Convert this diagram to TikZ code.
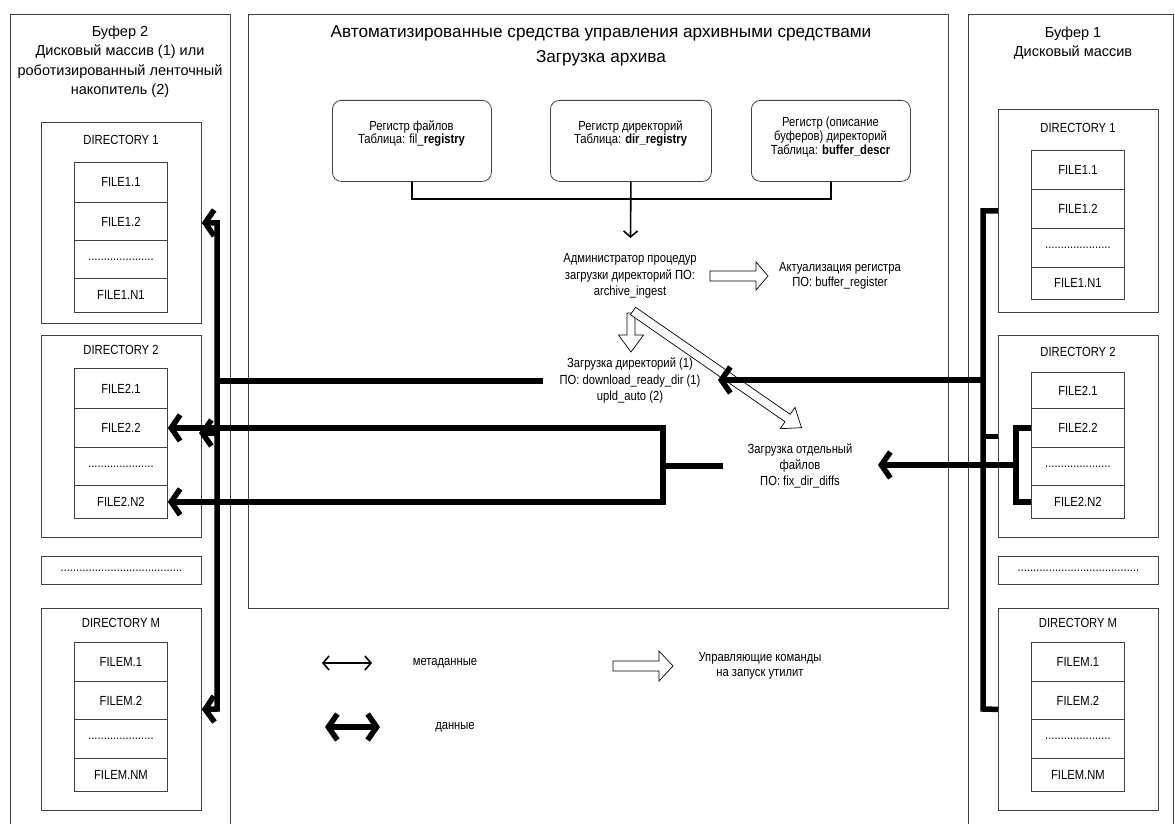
\documentclass[tikz,border=0pt]{standalone}
\usepackage{fontspec}
\setmainfont{Liberation Sans}
\newfontfamily\narrowf{Liberation Sans}[FakeStretch=0.85]
\usetikzlibrary{arrows.meta}
\newcommand\fsz{\narrowf\fontsize{13.2}{13.8}\selectfont}
\newcommand\fmid{\narrowf\fontsize{13.2}{16.2}\selectfont}
\newcommand\flow{\narrowf\fontsize{13.2}{15.2}\selectfont}
\newcommand\fbuf{\fontsize{14.5}{19.5}\selectfont}
\newcommand\fttl{\fontsize{17.2}{25}\selectfont}
\newcommand\dotsS{.....................}
\newcommand\dotsL{.......................................}
\tikzset{
  frame/.style={draw=black!75,line width=0.8pt},
  cell/.style={frame,anchor=north west,minimum width=93,inner sep=0pt,font=\fsz},
  dirbox/.style={frame,anchor=north west,minimum width=160,minimum height=202,inner sep=0pt},
  regbox/.style={frame,rounded corners=9,anchor=north west,minimum height=81,inner sep=0pt},
  lbl/.style={align=center,inner sep=0pt},
  meta/.style={line width=1.6pt},
  data/.style={line width=5.5pt},
  dtip/.tip={Straight Barb[length=9pt,width=26pt]},
  mtip/.tip={Straight Barb[length=6pt,width=14pt]},
  pics/harrow/.style n args={4}{code={\draw[line width=0.7pt,fill=white] (0,-#2) -- ({#1-#4},-#2) -- ({#1-#4},-#3) -- (#1,0) -- ({#1-#4},#3) -- ({#1-#4},#2) -- (0,#2) -- cycle;}}
}
\begin{document}
\begin{tikzpicture}[x=1pt,y=-1pt]
\useasboundingbox (0,0) rectangle (1175,824);
% outer frames
\node[frame,anchor=north west,minimum width=220,minimum height=830,inner sep=0pt] (buf2) at (10,14) {};
\node[frame,anchor=north west,minimum width=700,minimum height=594,inner sep=0pt] (ctrl) at (248,14) {};
\node[frame,anchor=north west,minimum width=205,minimum height=830,inner sep=0pt] (buf1) at (968,14) {};
% titles
\node[lbl,font=\fbuf] (buf2t) at (120,61.5) {Буфер 2\\Дисковый массив (1) или\\роботизированный ленточный\\накопитель (2)};
\node[lbl,font=\fbuf] (buf1t) at (1073,43) {Буфер 1\\Дисковый массив};
\node[lbl,font=\fttl] (ttl) at (601,46) {Автоматизированные средства управления архивными средствами\\Загрузка архива};
% ---------- left buffer ----------
\node[dirbox,minimum height=201] (ld1) at (41,122) {};
\node[lbl,font=\fsz] (ld1t) at (121,140) {DIRECTORY 1};
\node[cell,minimum height=40] (lf11) at (74,162) {FILE1.1};
\node[cell,minimum height=38] (lf12) at (74,202) {FILE1.2};
\node[cell,minimum height=38] (lf1d) at (74,240) {\dotsS};
\node[cell,minimum height=34] (lf1n) at (74,278) {FILE1.N1};
\node[dirbox] (ld2) at (41,335) {};
\node[lbl,font=\fsz] (ld2t) at (121,350) {DIRECTORY 2};
\node[cell,minimum height=40] (lf21) at (74,368) {FILE2.1};
\node[cell,minimum height=39] (lf22) at (74,408) {FILE2.2};
\node[cell,minimum height=38] (lf2d) at (74,447) {\dotsS};
\node[cell,minimum height=33] (lf2n) at (74,485) {FILE2.N2};
\node[frame,anchor=north west,minimum width=160,minimum height=28,inner sep=0pt,font=\fsz] (ldots) at (41,556) {\dotsL};
\node[dirbox] (ldm) at (41,608) {};
\node[lbl,font=\fsz] (ldmt) at (121,623) {DIRECTORY M};
\node[cell,minimum height=39] (lfm1) at (74,642) {FILEM.1};
\node[cell,minimum height=38] (lfm2) at (74,681) {FILEM.2};
\node[cell,minimum height=39] (lfmd) at (74,719) {\dotsS};
\node[cell,minimum height=33] (lfmn) at (74,758) {FILEM.NM};
% ---------- right buffer ----------
\node[dirbox,minimum height=203] (rd1) at (998,109) {};
\node[lbl,font=\fsz] (rd1t) at (1078,128) {DIRECTORY 1};
\node[cell,minimum height=39] (rf11) at (1031,150) {FILE1.1};
\node[cell,minimum height=39] (rf12) at (1031,189) {FILE1.2};
\node[cell,minimum height=39] (rf1d) at (1031,228) {\dotsS};
\node[cell,minimum height=32] (rf1n) at (1031,267) {FILE1.N1};
\node[dirbox] (rd2) at (998,335) {};
\node[lbl,font=\fsz] (rd2t) at (1078,352) {DIRECTORY 2};
\node[cell,minimum height=36] (rf21) at (1031,372) {FILE2.1};
\node[cell,minimum height=39] (rf22) at (1031,408) {FILE2.2};
\node[cell,minimum height=38] (rf2d) at (1031,447) {\dotsS};
\node[cell,minimum height=33] (rf2n) at (1031,485) {FILE2.N2};
\node[frame,anchor=north west,minimum width=160,minimum height=28,inner sep=0pt,font=\fsz] (rdots) at (998,556) {\dotsL};
\node[dirbox] (rdm) at (998,608) {};
\node[lbl,font=\fsz] (rdmt) at (1078,623) {DIRECTORY M};
\node[cell,minimum height=39] (rfm1) at (1031,642) {FILEM.1};
\node[cell,minimum height=38] (rfm2) at (1031,681) {FILEM.2};
\node[cell,minimum height=39] (rfmd) at (1031,719) {\dotsS};
\node[cell,minimum height=33] (rfmn) at (1031,758) {FILEM.NM};
% ---------- registers ----------
\node[regbox,minimum width=159] (r1) at (332,100) {};
\node[regbox,minimum width=161] (r2) at (550,100) {};
\node[regbox,minimum width=159] (r3) at (751,100) {};
\node[lbl,font=\fsz] (r1t) at (411.5,133.5) {Регистр файлов\\Таблица: fil\_\textbf{registry}};
\node[lbl,font=\fsz] (r2t) at (630.5,133.5) {Регистр директорий\\Таблица: \textbf{dir\_registry}};
\node[lbl,font=\fsz] (r3t) at (830.5,137) {Регистр (описание\\буферов) директорий\\Таблица: \textbf{buffer\_descr}};
% ---------- process texts ----------
\node[lbl,font=\fmid] (admin) at (630,276) {Администратор процедур\\загрузки директорий ПО:\\archive\_ingest};
\node[lbl,font=\flow] (act) at (840,275.5) {Актуализация регистра\\ПО: buffer\_register};
\node[lbl,font=\fmid] (dl) at (630,380.5) {Загрузка директорий (1)\\ПО: download\_ready\_dir (1)\\upld\_auto (2)};
\node[lbl,font=\fmid] (fix) at (800,466) {Загрузка отдельный\\файлов\\ПО: fix\_dir\_diffs};
% ---------- coordinates ----------
\coordinate (adminin) at (630.5,238);
\coordinate (lbus) at (217,709);
\coordinate (rbus) at (983,709);
\coordinate (ljoin) at (217,381);
\coordinate (dlout) at (543,381);
\coordinate (dlin) at (718,380);
\coordinate (rjoin) at (983,380);
\coordinate (fixout) at (723,466);
\coordinate (fixin) at (878,465);
\coordinate (rbr) at (1016,465);
\coordinate (lrect) at (663,466);
\coordinate (ld2in) at (199,433);
\coordinate (h1s) at (710,276);
\coordinate (h2s) at (631,313);
\coordinate (h3s) at (633,311);
% ---------- metadata connectors ----------
\draw[meta] (r1.south) -- ++(0,17) -| (r3.south);
\draw[meta,-mtip] (r2.south) -- (adminin);
% ---------- control arrows ----------
\pic[rotate=0] at (h1s) {harrow={58}{5}{14}{12}};
\pic[rotate=-90] at (h2s) {harrow={39}{4}{12.5}{17}};
\pic[rotate=-34.7] at (h3s) {harrow={205}{4.5}{13}{17}};
% ---------- data connectors, left ----------
\draw[data,dtip-dtip] (ld1.east) -| (lbus) -- (ldm.east);
\draw[data] (ljoin) -- (dlout);
\draw[data,dtip-dtip] (lf22.east) -| (lrect) |- (lf2n.east);
\draw[data] (lrect) -- (fixout);
\draw[data,-dtip] (ld2in -| lbus) -- (ld2in);
\fill (lf22.east -| lbus) circle (4);
\fill (lf2n.east -| lbus) circle (4);
% ---------- data connectors, right ----------
\draw[data] (rd1.west) -| (rbus) -- (rdm.west);
\draw[data] (rd2.west -| rbus) -- (rd2.west);
\draw[data,-dtip] (rjoin) -- (dlin);
\draw[data] (rf22.west) -| (rbr) |- (rf2n.west);
\draw[data,-dtip] (rbr) -- (fixin);
\fill (fixin -| rbus) circle (4);
% ---------- legend ----------
\coordinate (lm1) at (322,663); \coordinate (lm2) at (372,663);
\coordinate (ld1a) at (325,727); \coordinate (ld2a) at (380,727);
\coordinate (lgh) at (613,666);
\draw[meta,mtip-mtip] (lm1) -- (lm2);
\node[lbl,font=\fsz] (lmt) at (445,663) {метаданные};
\draw[data,dtip-dtip] (ld1a) -- (ld2a);
\node[lbl,font=\fsz] (ldt) at (455,727) {данные};
\pic at (lgh) {harrow={60}{5}{15}{14}};
\node[lbl,font=\flow] (lct) at (760,665.5) {Управляющие команды\\на запуск утилит};
\end{tikzpicture}
\end{document}
